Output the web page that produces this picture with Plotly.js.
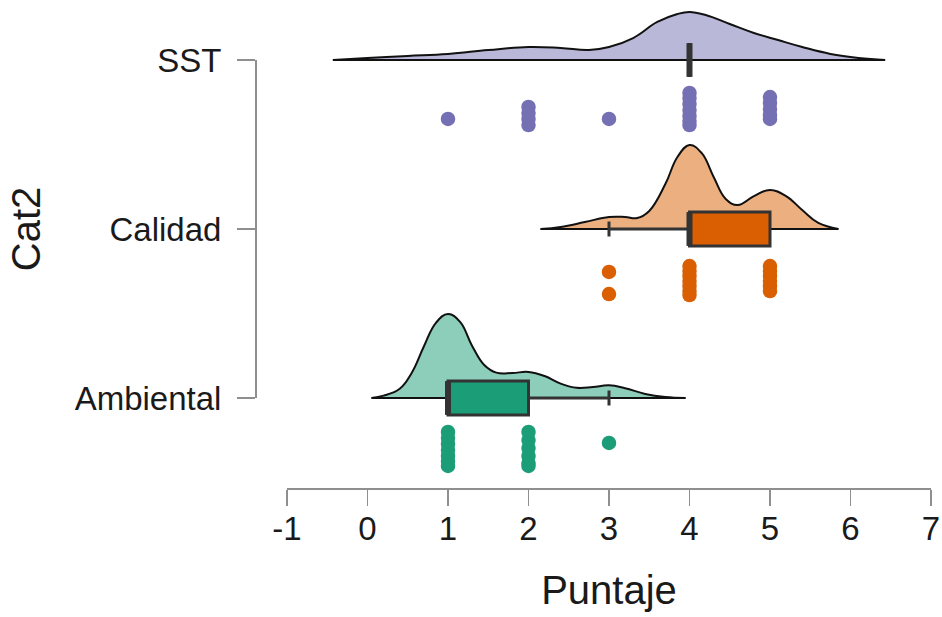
<!DOCTYPE html>
<html><head><meta charset="utf-8">
<script src="https://cdn.plot.ly/plotly-3.0.1.min.js"></script>
<style>html,body{margin:0;padding:0;background:#fff}</style>
</head><body><div id="chart" style="width:942px;height:617px"></div>
<script>
// ---- data ----
const categories = ['Ambiental', 'Calidad', 'SST'];
const catPos = [1, 2, 3];
const pointColors = ['#1b9e77', '#d95f02', '#7570b3'];
const densityFills = ['#8dcebb', '#ecaf80', '#bab8d9'];
const xTicks = [-1, 0, 1, 2, 3, 4, 5, 6, 7];

// density curves (height in axis units above each category baseline)
const ambDensX = [0.05, 0.2, 0.4, 0.55, 0.7, 0.85, 1.0, 1.15, 1.3, 1.45, 1.6, 1.8, 2.0, 2.2, 2.4, 2.6, 2.8, 3.0, 3.2, 3.45, 3.7, 3.95];
const ambDensY = [0, 0.014, 0.055, 0.150, 0.305, 0.445, 0.497, 0.450, 0.308, 0.195, 0.150, 0.148, 0.154, 0.130, 0.085, 0.060, 0.065, 0.075, 0.058, 0.024, 0.006, 0];
const calDensX = [2.15, 2.4, 2.7, 3.0, 3.2, 3.35, 3.5, 3.7, 3.85, 4.0, 4.15, 4.3, 4.45, 4.6, 4.8, 5.0, 5.2, 5.4, 5.6, 5.85];
const calDensY = [0, 0.012, 0.041, 0.071, 0.071, 0.065, 0.107, 0.266, 0.426, 0.497, 0.450, 0.308, 0.178, 0.142, 0.195, 0.231, 0.195, 0.112, 0.036, 0];
const sstDensX = [-0.43, 0.0, 0.5, 1.0, 1.5, 2.0, 2.4, 2.75, 3.0, 3.3, 3.6, 3.85, 4.0, 4.2, 4.5, 4.8, 5.1, 5.4, 5.75, 6.1, 6.43];
const sstDensY = [0, 0.012, 0.024, 0.036, 0.059, 0.077, 0.071, 0.059, 0.077, 0.130, 0.225, 0.272, 0.284, 0.266, 0.213, 0.160, 0.118, 0.077, 0.036, 0.012, 0];

// raw scores and their vertical jitter (axis units below baseline)
const ambScores = [1, 1, 1, 1, 1, 1, 1, 2, 2, 2, 2, 2, 2, 3];
const ambJitter = [0.201, 0.237, 0.272, 0.308, 0.343, 0.373, 0.402, 0.201, 0.249, 0.296, 0.343, 0.385, 0.402, 0.266];
const calScores = [3, 3, 4, 4, 4, 4, 4, 4, 4, 5, 5, 5, 5, 5, 5];
const calJitter = [0.254, 0.385, 0.219, 0.249, 0.278, 0.308, 0.337, 0.367, 0.391, 0.219, 0.249, 0.278, 0.308, 0.337, 0.367];
const sstScores = [1, 2, 2, 2, 2, 3, 4, 4, 4, 4, 4, 4, 4, 5, 5, 5, 5, 5];
const sstJitter = [0.349, 0.278, 0.314, 0.349, 0.385, 0.349, 0.195, 0.225, 0.260, 0.296, 0.331, 0.361, 0.385, 0.219, 0.254, 0.290, 0.325, 0.349];

// box statistics
const q1 = [1, 4, 4];
const medians = [1, 4, 4];
const q3 = [2, 5, 4];
const lowerWhisker = [1, 3, 4];
const upperWhisker = [3, 5, 4];

// ---- build ----
const densX = [ambDensX, calDensX, sstDensX];
const densY = [ambDensY, calDensY, sstDensY];
const scores = [ambScores, calScores, sstScores];
const jitter = [ambJitter, calJitter, sstJitter];

const pxPerUnit = 169;
const yMin = 1 - 90 / pxPerUnit;
const yMax = yMin + 488 / pxPerUnit;
const boxW = 0.2;

const traces = [];
// densities on base subplot
for (let i = 0; i < 3; i++) {
  const base = catPos[i];
  traces.push({
    type: 'scatter', mode: 'lines', x: densX[i], y: densY[i].map(v => base + v),
    xaxis: 'x', yaxis: 'y',
    fill: 'toself', fillcolor: densityFills[i],
    line: {color: '#111', width: 2, shape: 'spline', smoothing: 1.2},
    hoverinfo: 'skip', showlegend: false
  });
  const n = densX[i].length;
  traces.push({
    type: 'scatter', mode: 'lines', x: [densX[i][0], densX[i][n - 1]], y: [base, base],
    xaxis: 'x', yaxis: 'y',
    line: {color: '#111', width: 2}, hoverinfo: 'skip', showlegend: false
  });
}
// boxes on overlay subplot
for (let i = 0; i < 3; i++) {
  traces.push({
    type: 'box', orientation: 'h', xaxis: 'x', yaxis: 'y3',
    y: [catPos[i]], q1: [q1[i]], median: [medians[i]], q3: [q3[i]],
    lowerfence: [lowerWhisker[i]], upperfence: [upperWhisker[i]],
    width: boxW, whiskerwidth: 0.45, boxpoints: false,
    fillcolor: pointColors[i], line: {color: '#333333', width: 3},
    hoverinfo: 'skip', showlegend: false
  });
  traces.push({
    type: 'scatter', mode: 'lines', xaxis: 'x', yaxis: 'y3',
    x: [medians[i], medians[i]], y: [catPos[i] - boxW / 2, catPos[i] + boxW / 2],
    line: {color: '#333333', width: 6}, hoverinfo: 'skip', showlegend: false
  });
}
// points
for (let i = 0; i < 3; i++) {
  traces.push({
    type: 'scatter', mode: 'markers', xaxis: 'x', yaxis: 'y3',
    x: scores[i], y: jitter[i].map(j => catPos[i] - j),
    marker: {color: pointColors[i], size: 14.5, line: {width: 0}},
    hoverinfo: 'skip', showlegend: false
  });
}
// display axis anchor trace
traces.push({type: 'scatter', mode: 'markers', xaxis: 'x', yaxis: 'y2',
  x: [null, null, null], y: catPos, hoverinfo: 'skip', showlegend: false});

const axisGray = '#8f8f8f';
const txt = '#1a1a1a';
const fam = 'Liberation Sans, Arial, Helvetica, sans-serif';

const layout = {
  width: 942, height: 617,
  margin: {l: 255, r: 11, t: 0, b: 129},
  paper_bgcolor: '#fff', plot_bgcolor: 'rgba(0,0,0,0)',
  font: {family: fam, color: txt},
  showlegend: false, boxmode: 'overlay',
  xaxis: {
    domain: [32 / 676, 1], range: [-1, 7], anchor: 'y',
    showline: true, linecolor: axisGray, linewidth: 1.5,
    ticks: 'outside', ticklen: 16, tickwidth: 1.5, tickcolor: axisGray,
    tickvals: xTicks, ticktext: xTicks.map(String),
    showgrid: false, zeroline: false,
    tickfont: {size: 33, color: txt, family: fam}, ticklabelstandoff: -5,
    title: {text: 'Puntaje', font: {size: 40, color: txt, family: fam}, standoff: 30}
  },
  yaxis: {domain: [0, 1], range: [yMin, yMax], visible: false, fixedrange: true},
  yaxis3: {overlaying: 'y', anchor: 'x', range: [yMin, yMax], visible: false, fixedrange: true},
  yaxis2: {
    domain: [90 / 488, 428 / 488], range: [1, 3], anchor: 'free', position: 0,
    showline: true, linecolor: axisGray, linewidth: 1.5,
    ticks: 'outside', ticklen: 18, tickwidth: 1.5, tickcolor: axisGray,
    tickvals: catPos, ticktext: categories,
    showgrid: false, zeroline: false,
    tickfont: {size: 33, color: txt, family: fam}, ticklabelstandoff: 9,
    title: {text: 'Cat2', font: {size: 40, color: txt, family: fam}, standoff: 20}
  }
};

Plotly.newPlot('chart', traces, layout, {displayModeBar: false, staticPlot: true});
</script>
</body></html>
